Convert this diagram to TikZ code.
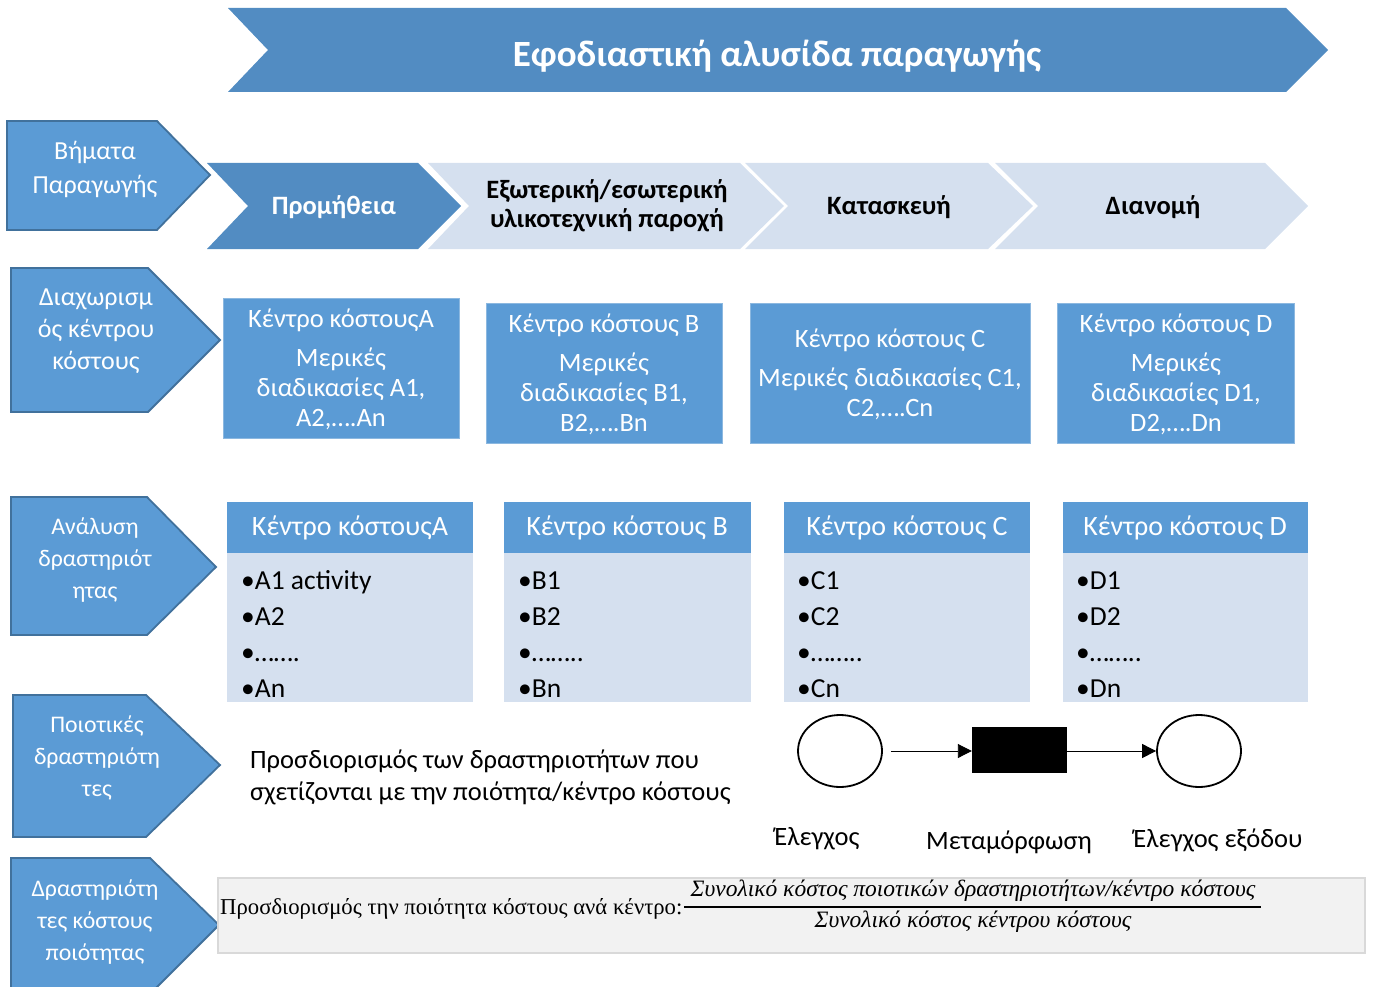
\documentclass[tikz,border=0pt]{standalone}
\usepackage{fontspec}
\setmainfont{Carlito}
\newfontfamily\formfont{Liberation Serif}
\usetikzlibrary{arrows.meta,shapes.geometric}
\definecolor{bannerblue}{HTML}{528CC2}
\definecolor{boxblue}{HTML}{5B9BD5}
\definecolor{edgeblue}{HTML}{41719C}
\definecolor{lightedge}{HTML}{8CB8E0}
\definecolor{paleblue}{HTML}{D5E0EF}
\definecolor{formgray}{HTML}{F2F2F2}
\definecolor{formedge}{HTML}{D9D9D9}
\newcommand{\fs}[2]{\fontsize{#1}{#2}\selectfont}
\tikzset{
  rowtab/.style={fill=boxblue, draw=edgeblue, line width=1.8pt, line join=miter},
  stagedark/.style={fill=bannerblue},
  stagelight/.style={fill=paleblue},
  tabtext/.style={text=white, align=center, font=\fs{26}{33}, inner sep=0},
  stagetext/.style={align=center, font=\bfseries\fs{26.5}{29}, inner sep=0},
  centerbox/.style={fill=boxblue, draw=lightedge, line width=0.8pt},
  centertext/.style={text=white, align=center, font=\fs{26.5}{30}, inner sep=0},
  headtext/.style={text=white, font=\fs{28}{30}, inner sep=0},
  headbox/.style={fill=boxblue},
  listbox/.style={fill=paleblue},
  itemtext/.style={align=left, anchor=base west, font=\fs{27.5}{35.7}, inner sep=0},
  place/.style={draw, ellipse, line width=1.8pt, minimum width=84, minimum height=72},
  transition/.style={fill=black, minimum width=95, minimum height=46, inner sep=0},
  flow/.style={line width=0.9pt, -{Triangle[length=14pt,width=14pt]}},
  petrilabel/.style={font=\fs{26.5}{30}, inner sep=0},
}
\begin{document}
\begin{tikzpicture}[x=1pt,y=-1pt]
\useasboundingbox (0,0) rectangle (1373,987);
\clip (0,0) rectangle (1373,987);

% title banner
\fill[stagedark] (228,8) -- (1286,8) -- (1328,50) -- (1286,92) -- (228,92) -- (268,50) -- cycle;
\node[text=white, font=\bfseries\fs{37}{40}, inner sep=0] (title) at (777,56) {Εφοδιαστική αλυσίδα παραγωγής};

% row labels on the left
\draw[rowtab] (7,121) -- (157,121) -- (210,175) -- (157,230) -- (7,230) -- cycle;
\node[tabtext, font=\fs{26}{34}] (t1) at (95,169) {Βήματα\\Παραγωγής};
\draw[rowtab] (11,268) -- (148,268) -- (220,340) -- (148,412) -- (11,412) -- cycle;
\node[tabtext, font=\fs{26}{32}] (t2) at (96,331) {Διαχωρισμ\\ός κέντρου\\κόστους};
\draw[rowtab] (11,497) -- (147,497) -- (216,567) -- (147,635) -- (11,635) -- cycle;
\node[tabtext, font=\fs{23.8}{32}] (t3) at (95,560) {Ανάλυση\\δραστηριότ\\ητας};
\draw[rowtab] (13,695) -- (146,695) -- (220,765) -- (146,837) -- (13,837) -- cycle;
\node[tabtext, font=\fs{23.8}{32}] (t4) at (97,758) {Ποιοτικές\\δραστηριότη\\τες};
\draw[rowtab] (11,858) -- (150,858) -- (219,925) -- (150,994) -- (11,994) -- cycle;
\node[tabtext, font=\fs{23.8}{32}] (t5) at (95,922) {Δραστηριότη\\τες κόστους\\ποιότητας};

% production stages
\fill[stagedark] (207,163) -- (418,163) -- (461,206) -- (418,249) -- (207,249) -- (248,206) -- cycle;
\node[stagetext, text=white] (s1) at (334,207) {Προμήθεια};
\fill[stagelight] (428,163) -- (740,163) -- (784,206) -- (740,249) -- (428,249) -- (469,206) -- cycle;
\node[stagetext] (s2) at (607,206) {Εξωτερική/εσωτερική\\υλικοτεχνική παροχή};
\fill[stagelight] (745,163) -- (988,163) -- (1033,206) -- (988,249) -- (745,249) -- (788,206) -- cycle;
\node[stagetext] (s3) at (889,207) {Κατασκευή};
\fill[stagelight] (995,163) -- (1265,163) -- (1308,206) -- (1265,249) -- (995,249) -- (1038,206) -- cycle;
\node[stagetext] (s4) at (1153,207) {Διανομή};

% cost centres
\draw[centerbox] (223,298) rectangle (459,438);
\node[centertext] (ca) at (341,369) {Κέντρο κόστουςA\\[9pt]Μερικές\\διαδικασίες A1,\\A2,….An};
\draw[centerbox] (486,303) rectangle (722,443);
\node[centertext] (cb) at (604,374) {Κέντρο κόστους B\\[9pt]Μερικές\\διαδικασίες B1,\\B2,….Bn};
\draw[centerbox] (750,303) rectangle (1030,443);
\node[centertext] (cc) at (890,374) {Κέντρο κόστους C\\[9pt]Μερικές διαδικασίες C1,\\C2,….Cn};
\draw[centerbox] (1057,303) rectangle (1294,443);
\node[centertext] (cd) at (1176,374) {Κέντρο κόστους D\\[9pt]Μερικές\\διαδικασίες D1,\\D2,….Dn};

% activity lists
\fill[headbox] (227,502) rectangle (473,553);
\fill[listbox] (227,553) rectangle (473,702);
\node[headtext] (ha) at (350,528) {Κέντρο κόστουςA};
\node[itemtext] (la) at (241,697) {•A1 activity\\•A2\\•…….\\•An};

\fill[headbox] (504,502) rectangle (751,553);
\fill[listbox] (504,553) rectangle (751,702);
\node[headtext] (hb) at (627,528) {Κέντρο κόστους B};
\node[itemtext] (lb) at (518,697) {•B1\\•B2\\•……..\\•Bn};

\fill[headbox] (784,502) rectangle (1030,553);
\fill[listbox] (784,553) rectangle (1030,702);
\node[headtext] (hc) at (907,528) {Κέντρο κόστους C};
\node[itemtext] (lc) at (797,697) {•C1\\•C2\\•……..\\•Cn};

\fill[headbox] (1063,502) rectangle (1308,553);
\fill[listbox] (1063,553) rectangle (1308,702);
\node[headtext] (hd) at (1185,528) {Κέντρο κόστους D};
\node[itemtext] (ld) at (1076,697) {•D1\\•D2\\•……..\\•Dn};

% quality activities
\node[align=left, anchor=west, font=\fs{26.5}{32}, inner sep=0] (q) at (250,777)
  {Προσδιορισμός των δραστηριοτήτων που\\σχετίζονται με την ποιότητα/κέντρο κόστους};

\node[place] (p1) at (840,751) {};
\node[transition] (tr) at (1019.5,750) {};
\node[place] (p2) at (1199,751) {};
\draw[flow, shorten <=8pt] (p1.east) -- (tr.west |- p1.east);
\draw[flow] (tr.east |- p2.west) -- (p2.west);
\node[petrilabel] (l1) at (817,839) {Έλεγχος};
\node[petrilabel] (l2) at (1009,842) {Μεταμόρφωση};
\node[petrilabel] (l3) at (1218,840) {Έλεγχος εξόδου};

% quality cost ratio
\filldraw[fill=formgray, draw=formedge, line width=1.2pt] (218,878) rectangle (1365,953);
\node[anchor=base west, font=\formfont\fs{22.7}{25}, inner sep=0] (fl) at (220,914)
  {Προσδιορισμός την ποιότητα κόστους ανά κέντρο:};
\node[font=\formfont\itshape\fs{23.5}{25}, inner sep=0] (fn) at (973,891)
  {Συνολικό κόστος ποιοτικών δραστηριοτήτων/κέντρο κόστους};
\node[font=\formfont\itshape\fs{23.5}{25}, inner sep=0] (fd) at (973,922)
  {Συνολικό κόστος κέντρου κόστους};
\draw[line width=1.5pt] (684,907) -- (1261,907);
\end{tikzpicture}
\end{document}
